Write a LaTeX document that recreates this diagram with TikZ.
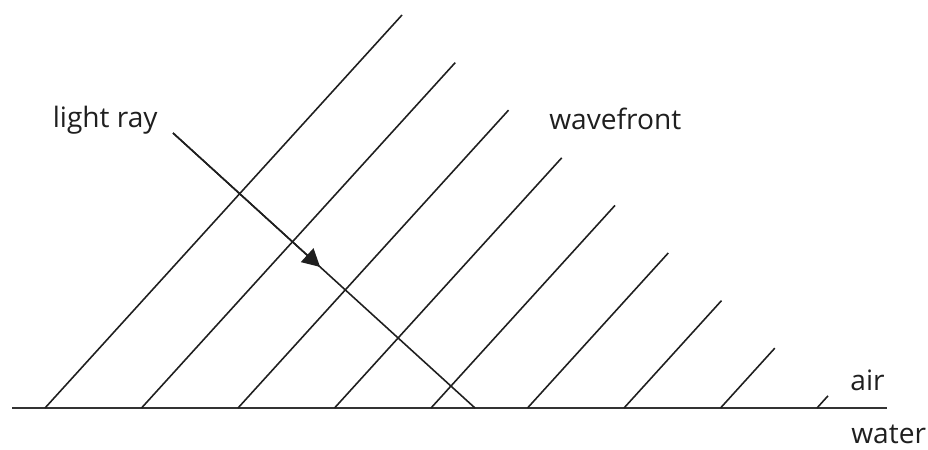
\documentclass[tikz,border=0pt]{standalone}
\usepackage{fontspec}
\setmainfont{Open Sans}
\usetikzlibrary{positioning,arrows.meta,calc}
\tikzset{
  wavefront/.style={line width=0.9pt, draw=black!88},
  surface/.style={line width=1.1pt, draw=black!80},
  rayline/.style={line width=0.9pt, draw=black!88},
  raytip/.style={-{Triangle[length=3.5mm, width=3.7mm]}, line width=0.9pt, draw=black!88},
  lbl/.style={font=\fontsize{16}{19}\selectfont, text=black!88, inner sep=0pt},
}

\begin{document}
\begin{tikzpicture}[x=0.02cm, y=-0.02cm]
\useasboundingbox (0,0) rectangle (928,449);
% air/water boundary
\coordinate (sl) at (12,408);
\coordinate (sr) at (887,408);
\draw[surface] (sl) -- (sr);
% wavefronts, feet on the surface
\coordinate (wb1) at (45,408);    \coordinate (wt1) at (402,15);
\coordinate (wb2) at (141.5,408); \coordinate (wt2) at (455.25,62.6);
\coordinate (wb3) at (238,408);   \coordinate (wt3) at (508.5,110.2);
\coordinate (wb4) at (334.5,408); \coordinate (wt4) at (561.75,157.8);
\coordinate (wb5) at (431,408);   \coordinate (wt5) at (615,205.4);
\coordinate (wb6) at (527.5,408); \coordinate (wt6) at (668.25,253);
\coordinate (wb7) at (624,408);   \coordinate (wt7) at (721.5,300.6);
\coordinate (wb8) at (720.5,408); \coordinate (wt8) at (774.75,348.2);
\coordinate (wb9) at (817,408);   \coordinate (wt9) at (828,395.8);
\draw[wavefront] (wb1) -- (wt1); \draw[wavefront] (wb2) -- (wt2);
\draw[wavefront] (wb3) -- (wt3); \draw[wavefront] (wb4) -- (wt4);
\draw[wavefront] (wb5) -- (wt5); \draw[wavefront] (wb6) -- (wt6);
\draw[wavefront] (wb7) -- (wt7); \draw[wavefront] (wb8) -- (wt8);
\draw[wavefront] (wb9) -- (wt9);
% light ray
\coordinate (rs) at (173,133);
\coordinate (re) at (475,408);
\coordinate (rm) at ($(rs)!0.487!(re)$);
\draw[rayline] (rs) -- (re);
\draw[raytip] (rs) -- (rm);
% labels
\node[lbl, anchor=base east] (rayname) at (158,128) {light ray};
\node[lbl, anchor=base west] (wavename) at (549,130) {wavefront};
\node[lbl, anchor=base west] (airname) at (850,390) {air};
\node[lbl, anchor=base west] (watername) at (851,443) {water};
\end{tikzpicture}
\end{document}
